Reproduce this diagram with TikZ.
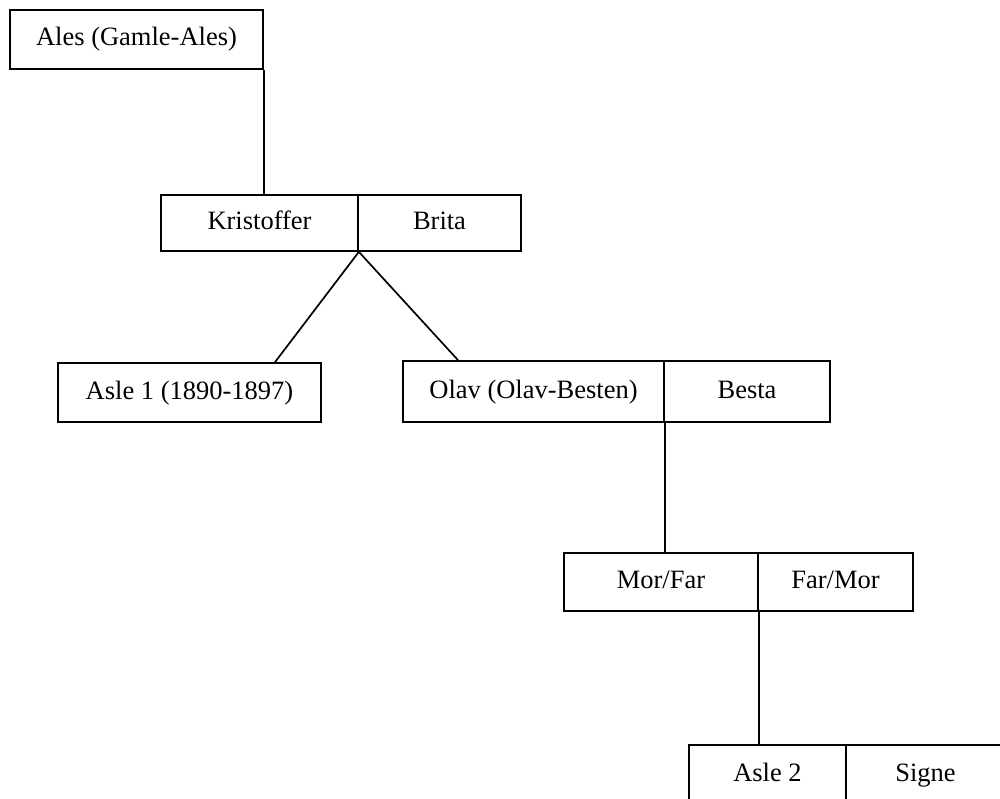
\documentclass[tikz,border=0pt]{standalone}
\usepackage{fontspec}
\setmainfont{Liberation Serif}
\usetikzlibrary{calc}
\begin{document}
\begin{tikzpicture}[x=1pt,y=-1pt,
  box/.style={draw=black, line width=1.7pt, rectangle, inner sep=0pt,
    font=\fontsize{26.5}{30}\selectfont, text height=18pt, text depth=5pt},
  link/.style={draw=black, line width=1.7pt}]
\useasboundingbox (0,0) rectangle (1000,799);
\fill[white] (0,0) rectangle (1000,799);
\clip (0,0) rectangle (1000,799);
\node[box, minimum width=253pt, minimum height=59pt] (ales) at (136.5,39.5) {Ales (Gamle-Ales)};
\node[box, minimum width=197pt, minimum height=56pt] (krist) at (259.5,223) {Kristoffer};
\node[box, minimum width=163pt, minimum height=56pt] (brita) at (439.5,223) {Brita};
\node[box, minimum width=263pt, minimum height=59pt] (asle1) at (189.5,392.5) {Asle 1 (1890-1897)};
\node[box, minimum width=261pt, minimum height=61pt] (olav) at (533.5,391.5) {Olav (Olav-Besten)};
\node[box, minimum width=166pt, minimum height=61pt] (besta) at (747,391.5) {Besta};
\node[box, minimum width=194pt, minimum height=58pt] (morfar) at (661,582) {Mor/Far};
\node[box, minimum width=155pt, minimum height=58pt] (farmor) at (835.5,582) {Far/Mor};
\node[box, minimum width=157pt, minimum height=59pt] (asle2) at (767.5,774.5) {Asle 2};
\node[box, minimum width=159pt, minimum height=59pt] (signe) at (925.5,774.5) {Signe};
\coordinate (c1) at ($(asle1.north)+(85.5,0)$);
\coordinate (c2) at ($(olav.north)+(-75.5,0)$);
\draw[link] (ales.south east) -- (ales.south east |- krist.north);
\draw[link] (krist.south east) -- (c1);
\draw[link] (krist.south east) -- (c2);
\draw[link] (olav.south east) -- (olav.south east |- morfar.north);
\draw[link] (morfar.south east) -- (morfar.south east |- asle2.north);
\end{tikzpicture}
\end{document}
